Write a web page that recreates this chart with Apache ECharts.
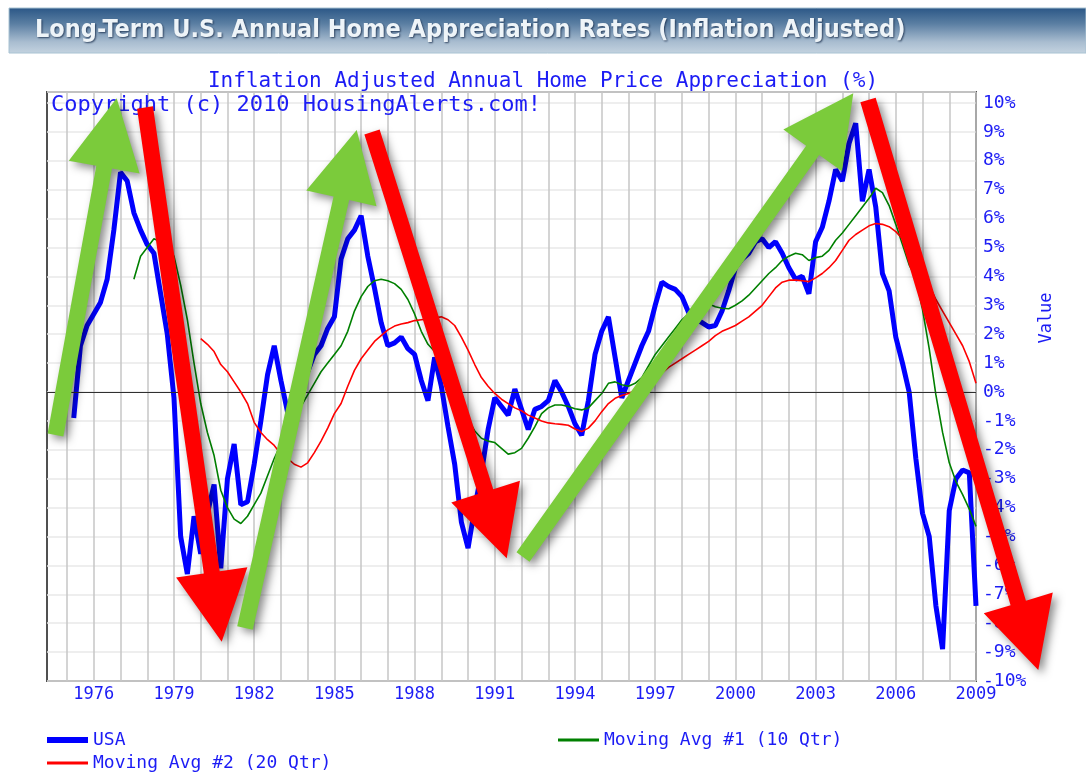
<!DOCTYPE html>
<html>
<head>
<meta charset="utf-8">
<title>Long-Term U.S. Annual Home Appreciation Rates</title>
<script src="https://cdn.jsdelivr.net/npm/echarts@6.0.0/dist/echarts.min.js"></script>
<style>
  body { margin: 0; background: #fff; }
  #main { width: 1086px; height: 779px; }
</style>
</head>
<body>
<div id="main"></div>
<script>
// quarterly axis: 1974Q2 .. 2009Q1
var startYear = 1974, startQuarter = 2, quarterCount = 140;
var quarters = [];
for (var i = 0; i < quarterCount; i++) {
    var q = startQuarter - 1 + i;
    quarters.push((startYear + Math.floor(q / 4)) + 'Q' + (q % 4 + 1));
}

// USA annual appreciation (%), from 1975Q2
var usaStart = 4;
var usaValues = [
    -0.9, 1.6, 2.3, 2.7, 3.1, 3.9, 5.6, 7.6, 7.3, 6.2, 5.6, 5.1, 4.8, 3.4, 2.0,
    -0.2, -5.0, -6.3, -4.3, -5.6, -4.2, -3.2, -6.1, -3.0, -1.8, -3.9, -3.8, -2.5,
    -1.0, 0.6, 1.6, 0.4, -0.7, -0.4, 0.1, 0.7, 1.3, 1.6, 2.2, 2.6, 4.6, 5.3, 5.6,
    6.1, 4.7, 3.6, 2.4, 1.6, 1.7, 1.9, 1.5, 1.3, 0.4, -0.3, 1.2, 0.2, -1.2, -2.5,
    -4.5, -5.4, -4.0, -2.8, -1.3, -0.2, -0.5, -0.8, 0.1, -0.6, -1.3, -0.6, -0.5,
    -0.3, 0.4, 0.0, -0.5, -1.1, -1.5, -0.3, 1.3, 2.1, 2.6, 1.2, -0.2, 0.4, 1.0,
    1.6, 2.1, 3.0, 3.8, 3.65, 3.55, 3.3, 2.75, 2.55, 2.4, 2.25, 2.3, 2.8, 3.5,
    4.3, 4.6, 4.8, 5.2, 5.3, 5.0, 5.2, 4.8, 4.3, 3.9, 4.0, 3.4, 5.2, 5.7, 6.6,
    7.7, 7.3, 8.6, 9.3, 6.6, 7.7, 6.4, 4.1, 3.5, 1.9, 1.0, 0.0, -2.3, -4.2, -5.0,
    -7.4, -8.9, -4.1, -3.0, -2.7, -2.8, -7.4
];

// Moving Avg #1 (10 Qtr), from 1977Q3
var ma10Start = 13;
var ma10Values = [
    3.9, 4.7, 5.0, 5.3, 5.2, 5.0, 4.7, 3.7, 2.5, 1.0, -0.4, -1.4, -2.2, -3.4,
    -4.0, -4.4, -4.55, -4.3, -3.9, -3.5, -2.9, -2.3, -1.8, -1.4, -1.0, -0.5,
    -0.1, 0.3, 0.7, 1.0, 1.3, 1.6, 2.1, 2.8, 3.3, 3.65, 3.85, 3.9, 3.85, 3.75,
    3.55, 3.2, 2.7, 2.1, 1.65, 1.4, 1.2, 1.0, 0.7, -0.2, -0.95, -1.35, -1.6,
    -1.7, -1.75, -1.95, -2.15, -2.1, -1.95, -1.6, -1.2, -0.75, -0.55, -0.45,
    -0.45, -0.5, -0.58, -0.62, -0.55, -0.3, -0.05, 0.3, 0.35, 0.25, 0.2, 0.3,
    0.5, 0.9, 1.3, 1.6, 1.9, 2.2, 2.5, 2.7, 2.85, 2.95, 3.05, 2.95, 2.9, 2.88,
    3.0, 3.15, 3.35, 3.6, 3.85, 4.1, 4.3, 4.55, 4.7, 4.8, 4.75, 4.55, 4.65, 4.7,
    4.9, 5.25, 5.5, 5.8, 6.1, 6.4, 6.7, 7.05, 6.9, 6.45, 5.8, 5.1, 4.4, 3.95,
    2.85, 1.5, -0.1, -1.4, -2.45, -3.1, -3.55, -4.05, -4.65
];

// Moving Avg #2 (20 Qtr), from 1980Q1
var ma20Start = 23;
var ma20Values = [
    1.85, 1.65, 1.4, 0.95, 0.7, 0.35, 0.0, -0.4, -1.05, -1.4, -1.65, -1.85,
    -2.15, -2.3, -2.5, -2.6, -2.45, -2.1, -1.7, -1.25, -0.75, -0.4, 0.2, 0.75,
    1.15, 1.45, 1.75, 1.95, 2.15, 2.28, 2.35, 2.4, 2.47, 2.5, 2.53, 2.57, 2.6,
    2.5, 2.3, 1.9, 1.45, 0.95, 0.5, 0.2, -0.05, -0.25, -0.4, -0.55, -0.65, -0.8,
    -0.9, -1.0, -1.07, -1.1, -1.12, -1.15, -1.28, -1.37, -1.25, -1.0, -0.68,
    -0.4, -0.22, -0.12, -0.05, 0.05, 0.15, 0.3, 0.5, 0.65, 0.85, 1.0, 1.15, 1.3,
    1.45, 1.6, 1.75, 1.95, 2.1, 2.2, 2.3, 2.45, 2.6, 2.8, 3.0, 3.3, 3.6, 3.8,
    3.87, 3.87, 3.85, 3.82, 3.95, 4.1, 4.3, 4.55, 4.9, 5.25, 5.45, 5.6, 5.75,
    5.83, 5.8, 5.72, 5.55, 5.3, 4.9, 4.35, 4.05, 3.7, 3.2, 2.8, 2.4, 2.0, 1.6,
    1.05, 0.3
];

function pad(start, values) {
    var out = [];
    for (var i = 0; i < start; i++) out.push(null);
    return out.concat(values);
}

var blueText = '#1c1cf5';
var mono = '"DejaVu Sans Mono", monospace';

// hand drawn trend arrows (pixels): tail -> tip
var arrowGreen = '#7bcb3b', arrowRed = '#ff0000';
var arrows = [
    { from: [55.5, 435], to: [116.7, 98.3], color: arrowGreen },
    { from: [145, 107.5], to: [221.7, 641.7], color: arrowRed },
    { from: [245, 628], to: [356.7, 130], color: arrowGreen },
    { from: [372, 132], to: [506.7, 558.3], color: arrowRed },
    { from: [523, 557], to: [853.3, 93.3], color: arrowGreen },
    { from: [868, 100], to: [1038.3, 670], color: arrowRed }
];

function arrowPoints(a, shaft, headLen, headWidth) {
    var dx = a.to[0] - a.from[0], dy = a.to[1] - a.from[1];
    var len = Math.sqrt(dx * dx + dy * dy);
    var ux = dx / len, uy = dy / len, nx = -uy, ny = ux;
    var bx = a.to[0] - ux * headLen, by = a.to[1] - uy * headLen;
    var s = shaft / 2, h = headWidth / 2;
    return [
        [a.from[0] + nx * s, a.from[1] + ny * s],
        [bx + nx * s, by + ny * s],
        [bx + nx * h, by + ny * h],
        [a.to[0], a.to[1]],
        [bx - nx * h, by - ny * h],
        [bx - nx * s, by - ny * s],
        [a.from[0] - nx * s, a.from[1] - ny * s]
    ];
}

var graphics = [
    {
        type: 'rect',
        shape: { x: 9, y: 8, width: 1077, height: 45 },
        style: {
            fill: {
                type: 'linear', x: 0, y: 0, x2: 0, y2: 1,
                colorStops: [
                    { offset: 0, color: '#2a5686' },
                    { offset: 0.35, color: '#5a7ea2' },
                    { offset: 0.75, color: '#a9bdd0' },
                    { offset: 1, color: '#c4d3e0' }
                ]
            },
            stroke: '#a8c2d2',
            lineWidth: 1
        },
        z: 1
    },
    {
        type: 'text',
        x: 35, y: 30,
        style: {
            text: 'Long-Term U.S. Annual Home Appreciation Rates (Inflation Adjusted)',
            font: 'bold 25px "DejaVu Sans Condensed", "DejaVu Sans", sans-serif',
            fill: '#eef4f8',
            verticalAlign: 'middle',
            textShadowColor: 'rgba(20,40,70,0.8)',
            textShadowBlur: 2,
            textShadowOffsetX: 1,
            textShadowOffsetY: 1
        },
        z: 2
    },
    {
        type: 'text',
        x: 51, y: 105,
        style: {
            text: 'Copyright (c) 2010 HousingAlerts.com!',
            font: '22px ' + mono,
            fill: blueText,
            verticalAlign: 'middle'
        },
        z: 5
    },
    {
        type: 'text',
        x: 1047, y: 318,
        rotation: Math.PI / 2,
        style: {
            text: 'Value',
            font: '17px ' + mono,
            fill: blueText,
            align: 'center',
            verticalAlign: 'middle'
        },
        z: 5
    }
];

arrows.forEach(function (a) {
    graphics.push({
        type: 'polygon',
        shape: { points: arrowPoints(a, 16, 70, 72) },
        style: {
            fill: a.color,
            shadowBlur: 8,
            shadowOffsetX: 4,
            shadowOffsetY: 4,
            shadowColor: 'rgba(0,0,0,0.45)'
        },
        z: 100
    });
});

function isYearStart(value) {
    return value.slice(4) === 'Q1';
}

var legendText = { fontFamily: mono, fontSize: 18, color: blueText };

var chart = echarts.init(document.getElementById('main'));

var option = {
    animation: false,
    backgroundColor: '#ffffff',
    title: {
        text: 'Inflation Adjusted Annual Home Price Appreciation (%)',
        left: 'center',
        top: 66,
        textStyle: { fontFamily: mono, fontSize: 21, fontWeight: 'normal', color: blueText }
    },
    legend: [
        {
            data: ['USA'], left: 47, top: 731, padding: 0, icon: 'rect',
            itemWidth: 41, itemHeight: 6, textStyle: legendText
        },
        {
            data: ['Moving Avg #1 (10 Qtr)'], left: 558, top: 731, padding: 0, icon: 'rect',
            itemWidth: 41, itemHeight: 3, textStyle: legendText
        },
        {
            data: ['Moving Avg #2 (20 Qtr)'], left: 47, top: 754, padding: 0, icon: 'rect',
            itemWidth: 41, itemHeight: 3, textStyle: legendText
        }
    ],
    grid: {
        left: 47, right: 110, top: 92, bottom: 98,
        show: true,
        backgroundColor: '#ffffff',
        borderColor: '#505050',
        borderWidth: 2,
        outerBoundsMode: 'none'
    },
    xAxis: {
        type: 'category',
        data: quarters,
        boundaryGap: false,
        axisLine: { show: false },
        axisTick: { show: false },
        axisLabel: {
            interval: function (index, value) {
                return isYearStart(value) && (parseInt(value, 10) - 1976) % 3 === 0;
            },
            formatter: function (value) { return value.slice(0, 4); },
            fontFamily: mono,
            fontSize: 17,
            color: blueText,
            margin: 5
        },
        splitLine: {
            show: true,
            interval: function (index, value) { return isYearStart(value); },
            lineStyle: { color: '#c6c6c6', width: 1.5 }
        }
    },
    yAxis: {
        type: 'value',
        position: 'right',
        min: -10,
        max: 10.38,
        interval: 1,
        axisLine: { show: false },
        axisTick: { show: false },
        axisLabel: {
            formatter: function (v) {
                return Math.abs(v - Math.round(v)) < 1e-6 ? Math.round(v) + '%' : '';
            },
            fontFamily: mono,
            fontSize: 18,
            color: blueText,
            margin: 7
        },
        splitLine: { show: true, lineStyle: { color: '#e9e9e9', width: 1.5 } }
    },
    series: [
        {
            name: 'USA',
            type: 'line',
            data: pad(usaStart, usaValues),
            symbol: 'none',
            color: '#0000ff',
            lineStyle: { color: '#0000ff', width: 5 },
            z: 3,
            markLine: {
                silent: true,
                symbol: 'none',
                label: { show: false },
                lineStyle: { color: '#303030', width: 1, type: 'solid' },
                data: [{ yAxis: 0 }]
            }
        },
        {
            name: 'Moving Avg #1 (10 Qtr)',
            type: 'line',
            data: pad(ma10Start, ma10Values),
            symbol: 'none',
            color: '#008000',
            lineStyle: { color: '#008000', width: 1.6 },
            z: 4
        },
        {
            name: 'Moving Avg #2 (20 Qtr)',
            type: 'line',
            data: pad(ma20Start, ma20Values),
            symbol: 'none',
            color: '#ff0000',
            lineStyle: { color: '#ff0000', width: 1.6 },
            z: 5
        }
    ],
    graphic: graphics
};

chart.setOption(option);
</script>
</body>
</html>
